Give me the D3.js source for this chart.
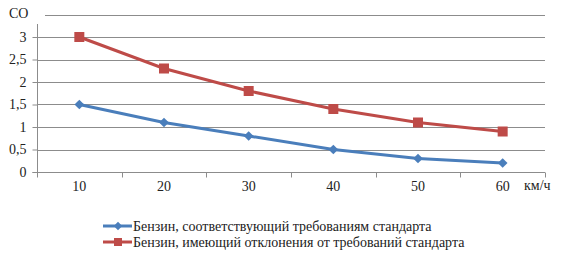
<!DOCTYPE html>
<html>
<head>
<meta charset="utf-8">
<script src="https://cdn.jsdelivr.net/npm/d3@7"></script>
<style>
  #chart text { font-family: "Liberation Serif", "Times New Roman", serif !important; font-size: 14px !important; }
</style>
</head>
<body style="margin:0;background:#fff">
<svg id="chart"></svg>
<script>
const speeds = ["10", "20", "30", "40", "50", "60"];
const normal = [1.5, 1.1, 0.8, 0.5, 0.3, 0.2];
const deviant = [3, 2.3, 1.8, 1.4, 1.1, 0.9];
const yTicks = [0, 0.5, 1, 1.5, 2, 2.5, 3];
const yMax = 3.5;
const seriesNames = [
  "Бензин, соответствующий требованиям стандарта",
  "Бензин, имеющий отклонения от требований стандарта"
];

const width = 562;
const height = 256;
const blue = "#4a7ebb";
const red = "#be4b48";
const gridColor = "#8c8c8c";
const textColor = "#222";
const font = "'Liberation Serif', 'Times New Roman', serif";

const svg = d3.select("#chart")
  .attr("width", width)
  .attr("height", height)
  .style("display", "block");

const x = d3.scaleBand(speeds, [37, 545]);
const y = d3.scaleLinear([0, yMax], [172, 14.5]);
const fmt = d => String(d).replace(".", ",");

// gridlines (top one starts right of the CO label)
svg.append("g")
  .selectAll("line")
  .data(yTicks.filter(d => d > 0).concat([yMax]))
  .join("line")
  .attr("x1", d => d === yMax ? 45 : 37).attr("x2", 545)
  .attr("y1", d => Math.round(y(d)) + 0.5).attr("y2", d => Math.round(y(d)) + 0.5)
  .attr("stroke", gridColor);

// y axis
svg.append("g")
  .attr("transform", "translate(37.5,0)")
  .call(d3.axisLeft(y).tickValues(yTicks).tickFormat(fmt).tickSize(5).tickPadding(6))
  .call(g => g.select(".domain").attr("stroke", gridColor).attr("d", `M-5,${y(0) + 0.5}H0V24`))
  .call(g => g.selectAll(".tick line").attr("stroke", gridColor));

// x axis
const xAxis = svg.append("g")
  .attr("transform", `translate(0,${Math.round(y(0)) + 0.5})`)
  .call(d3.axisBottom(x).tickSize(0).tickPadding(9))
  .call(g => g.select(".domain").attr("stroke", gridColor).attr("d", "M37,0H545"));

xAxis.append("g")
  .selectAll("line")
  .data(d3.range(speeds.length + 1))
  .join("line")
  .attr("x1", i => Math.round(37 + i * x.step()) + 0.5)
  .attr("x2", i => Math.round(37 + i * x.step()) + 0.5)
  .attr("y1", 0).attr("y2", 5)
  .attr("stroke", gridColor);

// axis titles
svg.append("text").attr("x", 9).attr("y", 18).text("CO");
svg.append("text").attr("x", 524).attr("y", 190).text("км/ч");

const line = d3.line()
  .x((d, i) => x(speeds[i]) + x.bandwidth() / 2)
  .y(d => y(d));

// normal series
svg.append("path")
  .datum(normal)
  .attr("d", line)
  .attr("fill", "none")
  .attr("stroke", blue)
  .attr("stroke-width", 3);

svg.append("g")
  .selectAll("path")
  .data(normal)
  .join("path")
  .attr("transform", (d, i) => `translate(${x(speeds[i]) + x.bandwidth() / 2},${y(d)})`)
  .attr("d", d3.symbol(d3.symbolDiamond2, 60))
  .attr("fill", blue);

// deviant series
svg.append("path")
  .datum(deviant)
  .attr("d", line)
  .attr("fill", "none")
  .attr("stroke", red)
  .attr("stroke-width", 3);

svg.append("g")
  .selectAll("rect")
  .data(deviant)
  .join("rect")
  .attr("x", (d, i) => x(speeds[i]) + x.bandwidth() / 2 - 5)
  .attr("y", d => y(d) - 5)
  .attr("width", 10).attr("height", 10)
  .attr("fill", red);

// legend
const legend = svg.append("g")
  .selectAll("g")
  .data(seriesNames)
  .join("g")
  .attr("transform", (d, i) => `translate(103,${226 + i * 16})`);

legend.append("line")
  .attr("x1", 0).attr("x2", 29)
  .attr("stroke", (d, i) => i ? red : blue)
  .attr("stroke-width", 3);

legend.filter((d, i) => i === 0).append("path")
  .attr("transform", "translate(15,0)")
  .attr("d", d3.symbol(d3.symbolDiamond2, 45))
  .attr("fill", blue);

legend.filter((d, i) => i === 1).append("rect")
  .attr("x", 11).attr("y", -4).attr("width", 8).attr("height", 8)
  .attr("fill", red);

legend.append("text")
  .attr("x", 30).attr("y", 5)
  .text(d => d);

svg.selectAll("text")
  .style("font-family", font)
  .attr("fill", textColor);
</script>
</body>
</html>
